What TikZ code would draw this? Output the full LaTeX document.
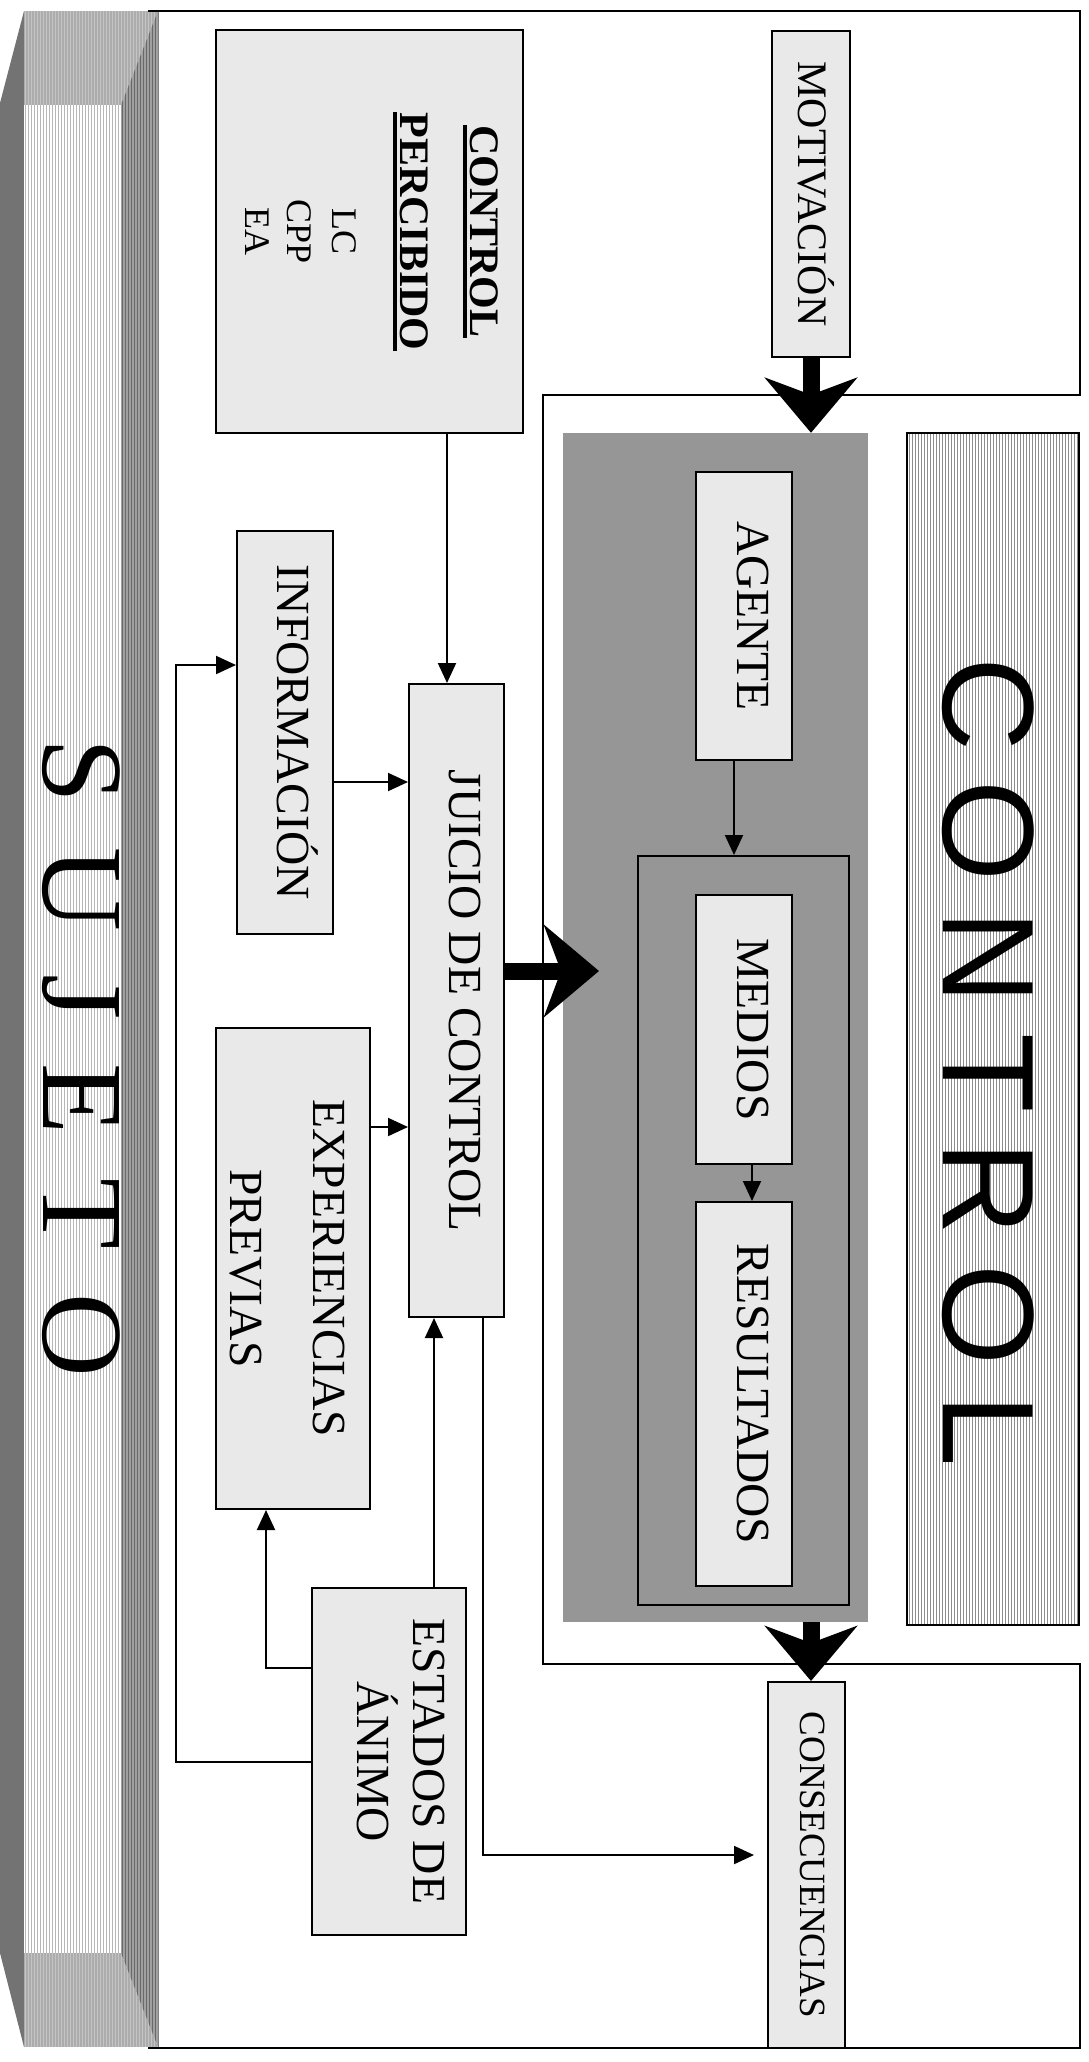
\documentclass[tikz,border=0pt]{standalone}
\usepackage{fontspec}
\setmainfont{Liberation Serif}
\newfontfamily\bigsans{Liberation Sans}
\usepackage{graphicx}
\usetikzlibrary{arrows.meta}
\definecolor{boxfill}{RGB}{233,233,233}
\definecolor{darkpanel}{RGB}{150,150,150}
\definecolor{sideL}{RGB}{115,115,115}
\definecolor{hatch}{RGB}{140,140,140}
\definecolor{topface}{RGB}{172,172,172}
\definecolor{topline}{RGB}{196,196,196}
\definecolor{frontline}{RGB}{182,182,182}
\definecolor{rightface}{RGB}{160,160,160}
\definecolor{rightline}{RGB}{105,105,105}
\newcommand\vt[2]{\rotatebox{-90}{\raisebox{0pt}[#1][0pt]{#2}}}
\newcommand\ulb[1]{\setbox0=\hbox{\bfseries #1}\rlap{\rule[-7pt]{\wd0}{3.5pt}}\box0}
\begin{document}
\begin{tikzpicture}[x=1pt,y=-1pt,
  box/.style={draw, fill=boxfill, line width=2pt, inner sep=0pt},
  conn/.style={line width=2pt, -{Triangle[length=20pt,width=18pt]}},
  bigarrow/.style={line width=17pt, -{Stealth[length=55pt,width=92pt,inset=17pt]}},
  hatchline/.style={line width=1pt}]
\useasboundingbox (0,0) rectangle (1089,2062);

% ---- SUJETO 3D bar
\fill[sideL] (0,103) -- (24,11) -- (24,2047) -- (0,1953) -- cycle;
\begin{scope}
  \clip (24,11) -- (158,11) -- (121,105) -- (24,105) -- cycle;
  \fill[topface] (24,11) rectangle (158,105);
  \foreach \x in {25,28,...,157} \draw[topline,hatchline] (\x,11) -- (\x,105);
\end{scope}
\begin{scope}
  \clip (24,1953) -- (121,1953) -- (158,2047) -- (24,2047) -- cycle;
  \fill[topface] (24,1953) rectangle (158,2047);
  \foreach \x in {25,28,...,157} \draw[topline,hatchline] (\x,1953) -- (\x,2047);
\end{scope}
\fill[white] (24,105) rectangle (121,1953);
\foreach \x in {25,28,...,120} \draw[frontline,hatchline] (\x,105) -- (\x,1953);
\begin{scope}
  \clip (121,105) -- (158,11) -- (158,2047) -- (121,1953) -- cycle;
  \fill[rightface] (121,11) rectangle (158,2047);
  \foreach \x in {122,125,...,158} \draw[rightline,hatchline] (\x,11) -- (\x,2047);
\end{scope}
\draw[gray, line width=1pt] (158,11) -- (158,2047);
\node[rotate=-90, anchor=base, inner sep=0pt, font=\fontsize{116}{120}\selectfont] (sujeto) at (43,1058) {\spaceskip=44pt S U J E T O};

% ---- frame
\draw[line width=2pt] (148,11) -- (1080,11) -- (1080,395) -- (543,395) -- (543,1664) -- (1080,1664) -- (1080,2048) -- (148,2048);

% ---- control region
\node[fill=darkpanel, minimum width=305pt, minimum height=1189pt, inner sep=0pt] (panel) at (715.5,1027.5) {};
\fill[white] (907,433) rectangle (1079,1625);
\foreach \x in {909,912,...,1077} \draw[hatch,hatchline] (\x,433) -- (\x,1625);
\node[draw, line width=2pt, minimum width=172pt, minimum height=1192pt, inner sep=0pt] (ctrl) at (993,1029)
  {\vt{100pt}{\hspace*{66pt}\bigsans\fontsize{130}{135}\selectfont\spaceskip=29pt C O N T R O L}};
\node[draw, line width=2pt, minimum width=211pt, minimum height=749pt, inner sep=0pt] (cont) at (743.5,1230.5) {};

% ---- boxes
\node[box, minimum width=307pt, minimum height=403pt, font=\fontsize{42}{43.5}\selectfont] (cp) at (369.5,231.5)
  {\vt{249pt}{\begin{tabular}[b]{@{}c@{}}
   \ulb{CONTROL}\\[26.5pt]
   \ulb{PERCIBIDO}\\[24.5pt]
   {\fontsize{36}{43.5}\selectfont LC}\\[1.5pt]
   {\fontsize{36}{43.5}\selectfont CPP}\\[-1.5pt]
   {\fontsize{36}{43.5}\selectfont EA}
   \end{tabular}}};
\node[box, minimum width=78pt, minimum height=326pt, font=\fontsize{42}{48}\selectfont] (mot) at (811,194) {\vt{26pt}{MOTIVACIÓN}};
\node[box, minimum width=96pt, minimum height=403pt, font=\fontsize{47.5}{55}\selectfont] (info) at (285,732.5) {\vt{15pt}{INFORMACIÓN}};
\node[box, minimum width=95pt, minimum height=633pt, font=\fontsize{47.5}{55}\selectfont] (juicio) at (456.5,1000.5) {\vt{15pt}{JUICIO DE CONTROL}};
\node[box, minimum width=154pt, minimum height=481pt, font=\fontsize{47.5}{55}\selectfont] (exp) at (293,1268.5)
  {\vt{126pt}{\begin{tabular}[b]{@{}c@{}}EXPERIENCIAS\\[28pt]PREVIAS\end{tabular}}};
\node[box, minimum width=154pt, minimum height=347pt, font=\fontsize{47.5}{53}\selectfont] (est) at (389,1761.5)
  {\vt{64pt}{\begin{tabular}[b]{@{}c@{}}ESTADOS DE\\ÁNIMO\end{tabular}}};
\node[box, minimum width=77pt, minimum height=366pt, font=\fontsize{37}{42}\selectfont] (cons) at (806.5,1865) {\vt{13pt}{CONSECUENCIAS}};
\node[box, minimum width=96pt, minimum height=288pt, font=\fontsize{47.5}{55}\selectfont] (agente) at (744,616) {\vt{14pt}{AGENTE}};
\node[box, minimum width=96pt, minimum height=269pt, font=\fontsize{47.5}{55}\selectfont] (medios) at (744,1029.5) {\vt{14pt}{MEDIOS}};
\node[box, minimum width=96pt, minimum height=384pt, font=\fontsize{47.5}{55}\selectfont] (result) at (744,1394) {\vt{14pt}{RESULTADOS}};

% ---- helper coordinates
\coordinate (cpx) at (447,0);
\coordinate (iy) at (0,782);
\coordinate (ey) at (0,1127);
\coordinate (ex) at (434,0);
\coordinate (jc) at (483,1855);
\coordinate (e1) at (266,1668);
\coordinate (e2) at (176,1762);
\coordinate (e3) at (176,665);
\coordinate (ax) at (734,0);
\coordinate (mx) at (752,0);
\coordinate (a3) at (599,971);

% ---- thin connectors
\draw[conn] (cp.south -| cpx) -- (juicio.north -| cpx);
\draw[conn] (info.east |- iy) -- (juicio.west |- iy);
\draw[conn] (exp.east |- ey) -- (juicio.west |- ey);
\draw[conn] (est.north -| ex) -- (juicio.south -| ex);
\draw[conn, shorten >=13pt] (juicio.south -| jc) -- (jc) -- (cons.west |- jc);
\draw[conn] (est.west |- e1) -- (e1) -- (exp.south -| e1);
\draw[conn] (est.west |- e2) -- (e2) -- (e3) -- (info.west |- e3);
\draw[conn] (agente.south -| ax) -- (cont.north -| ax);
\draw[conn] (medios.south -| mx) -- (result.north -| mx);

% ---- big arrows
\draw[bigarrow] (mot.south) -- (mot.south |- panel.north);
\draw[bigarrow] (panel.south -| mot.south) -- (mot.south |- cons.north);
\draw[bigarrow] (juicio.east |- a3) -- (a3);
\end{tikzpicture}
\end{document}
